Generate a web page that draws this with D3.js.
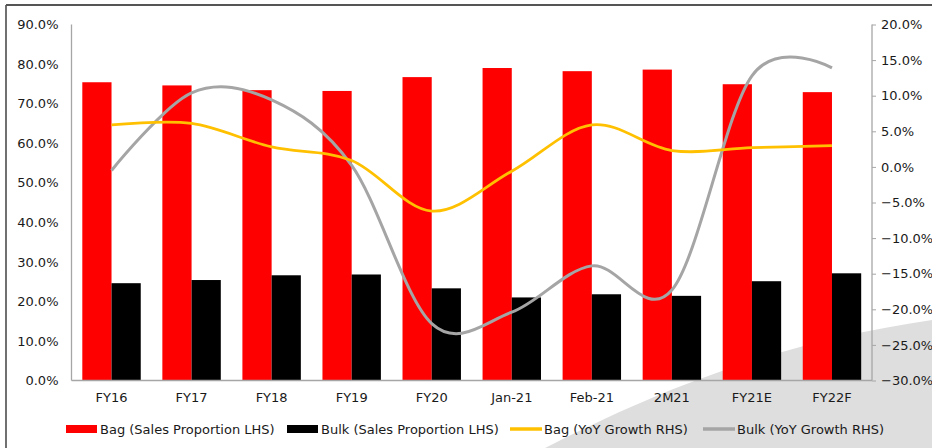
<!DOCTYPE html>
<html><head><meta charset="utf-8">
<script src="https://cdn.jsdelivr.net/npm/d3@7"></script>
<style>html,body{margin:0;padding:0;background:#fff;}svg{display:block;font-family:"DejaVu Sans",Verdana,sans-serif;}</style>
</head><body>
<svg id="c" width="932" height="448"></svg>
<script>
const categories = ["FY16","FY17","FY18","FY19","FY20","Jan-21","Feb-21","2M21","FY21E","FY22F"];
const bagShare  = [75.4, 74.6, 73.4, 73.2, 76.7, 79.0, 78.2, 78.6, 74.9, 72.9];
const bulkShare = [24.6, 25.4, 26.6, 26.8, 23.3, 21.0, 21.8, 21.4, 25.1, 27.1];
const bagGrowth  = [5.9, 6.1, 2.8, 0.9, -6.2, -0.6, 5.9, 2.3, 2.7, 3.0];
const bulkGrowth = [-0.5, 10.4, 9.4, 0.2, -22.0, -20.4, -13.9, -17.3, 12.8, 13.9];
const leftTicks  = [0,10,20,30,40,50,60,70,80,90];
const rightTicks = [20,15,10,5,0,-5,-10,-15,-20,-25,-30];
const legendLabels = ["Bag (Sales Proportion LHS)","Bulk (Sales Proportion LHS)","Bag (YoY Growth RHS)","Bulk (YoY Growth RHS)"];

const svg = d3.select("#c");
const L = 71.5, R = 872, T = 24.5, B = 380.5;
const FS = 13;
const fmt = d3.format(".1f");

// background swoosh
svg.append("path")
  .attr("d","M545,448 C640,400 760,345 932,320 L932,448 Z")
  .attr("fill","#dedede");

// frame
svg.append("line").attr("x1",6).attr("x2",6).attr("y1",5).attr("y2",448).attr("stroke","#111").attr("stroke-width",1.2);
svg.append("line").attr("x1",6).attr("x2",932).attr("y1",5).attr("y2",5).attr("stroke","#555").attr("stroke-width",2);

const x0 = d3.scaleBand().domain(categories).range([L, R]).padding(0);
const bw = x0.bandwidth();
const x1 = d3.scaleBand().domain(["bag","bulk"]).range([bw*0.135, bw*0.865]).padding(0);
const yL = d3.scaleLinear().domain([0,90]).range([B, T]);
const yR = d3.scaleLinear().domain([-30,20]).range([B, T]);

// bars
const g = svg.append("g");
categories.forEach((c,i)=>{
  g.append("rect").attr("x",x0(c)+x1("bag")).attr("width",x1.bandwidth())
    .attr("y",yL(bagShare[i])).attr("height",yL(0)-yL(bagShare[i])).attr("fill","#ff0000");
  g.append("rect").attr("x",x0(c)+x1("bulk")).attr("width",x1.bandwidth())
    .attr("y",yL(bulkShare[i])).attr("height",yL(0)-yL(bulkShare[i])).attr("fill","#000");
});

// axes
const axL = svg.append("g").attr("transform",`translate(${L},0)`)
  .call(d3.axisLeft(yL).tickValues(leftTicks).tickSize(0).tickPadding(13).tickFormat(d=>fmt(d)+"%"));
const axR = svg.append("g").attr("transform",`translate(${R},0)`)
  .call(d3.axisRight(yR).tickValues(rightTicks).tickSize(4).tickPadding(5).tickFormat(d=>fmt(d)+"%"));
const axB = svg.append("g").attr("transform",`translate(0,${B})`)
  .call(d3.axisBottom(x0).tickSize(0).tickPadding(12));
[axL,axR,axB].forEach(a=>{
  a.select(".domain").attr("stroke","#a6a6a6").attr("stroke-width",1.3);
  a.selectAll(".tick line").attr("stroke","#a6a6a6");
  a.selectAll("text").attr("font-size",FS).attr("fill","#1a1a1a").attr("font-family",'"DejaVu Sans",Verdana,sans-serif');
});
axB.select(".domain").attr("d",`M${L},0H${R}`);
axL.select(".domain").attr("d",`M0,${T}V${B}`);
axR.select(".domain").attr("d",`M0,${T}V${B}`);

// lines
const line = d3.line().x((d,i)=>x0(categories[i])+bw/2).y(d=>yR(d)).curve(d3.curveCardinal.tension(0));
svg.append("path").datum(bulkGrowth).attr("d",line).attr("fill","none").attr("stroke","#a5a5a5").attr("stroke-width",3);
svg.append("path").datum(bagGrowth).attr("d",line).attr("fill","none").attr("stroke","#ffc000").attr("stroke-width",2.75);

// legend
const lg = svg.append("g");
const items = [
  {x:66, type:"rect", color:"#ff0000"},
  {x:287, type:"rect", color:"#000"},
  {x:510, type:"line", color:"#ffc000"},
  {x:703, type:"line", color:"#a5a5a5"}
];
items.forEach((it,i)=>{
  if(it.type==="rect") lg.append("rect").attr("x",it.x).attr("y",425).attr("width",31).attr("height",8).attr("fill",it.color);
  else lg.append("line").attr("x1",it.x).attr("x2",it.x+32).attr("y1",429).attr("y2",429).attr("stroke",it.color).attr("stroke-width",3.5);
  lg.append("text").attr("x",it.x+34).attr("y",433.5).attr("font-size",FS).attr("fill","#1a1a1a").text(legendLabels[i]);
});
</script>
</body></html>
